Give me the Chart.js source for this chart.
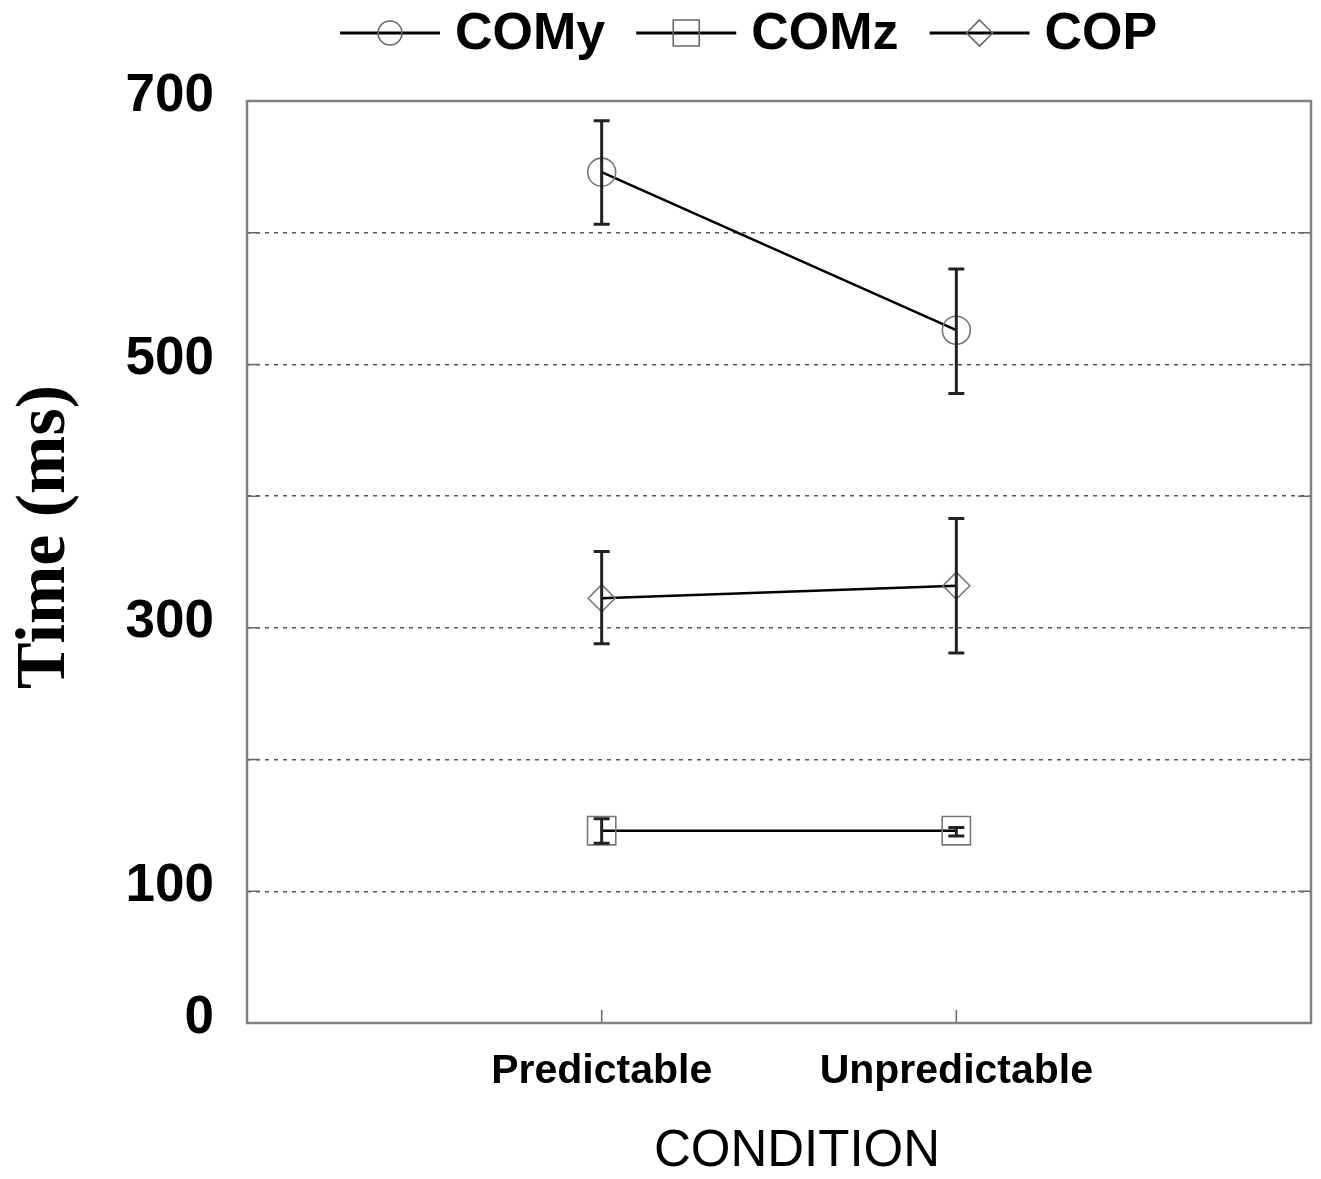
<!DOCTYPE html>
<html>
<head>
<meta charset="utf-8">
<script src="https://cdn.jsdelivr.net/npm/chart.js@4/dist/chart.umd.min.js"></script>
<style>
  html, body { margin: 0; padding: 0; background: #ffffff; }
  #wrap { width: 1321px; height: 1179px; position: relative; }
</style>
</head>
<body>
<div id="wrap"><canvas id="c" width="1321" height="1179"></canvas></div>
<script>
// ---- data ----
const categories = ['Predictable', 'Unpredictable'];
const seriesNames = ['COMy', 'COMz', 'COP'];
const comyMean  = [646, 526];
const comyUpper = [685, 572.5];
const comyLower = [606.5, 478];
const comzMean  = [146, 146];
const comzUpper = [155, 148.5];
const comzLower = [136.5, 142];
const copMean   = [322.5, 332];
const copUpper  = [358, 383];
const copLower  = [288, 281];
const yTickLabels = [0, 100, 300, 500, 700];
const yAxisTitle = 'Time (ms)';
const xAxisTitle = 'CONDITION';

function pts(arr) { return arr.map((v, i) => ({ x: i + 1, y: v })); }

const styles = ['circle', 'rect', 'rectRot'];
const radii = [14, 20, 13.5];
const means = [comyMean, comzMean, copMean];
const uppers = [comyUpper, comzUpper, copUpper];
const lowers = [comyLower, comzLower, copLower];

const datasets = seriesNames.map((name, k) => ({
  label: name,
  data: pts(means[k]),
  upper: uppers[k],
  lower: lowers[k],
  borderColor: '#000',
  borderWidth: 2.5,
  pointStyle: styles[k],
  pointRadius: radii[k],
  pointHoverRadius: radii[k],
  pointBorderColor: '#777',
  pointBorderWidth: 1.6,
  pointBackgroundColor: 'rgba(0,0,0,0)',
  tension: 0,
  fill: false
}));

function drawMarker(ctx, style, x, y, r) {
  ctx.beginPath();
  if (style === 'circle') {
    ctx.arc(x, y, r, 0, Math.PI * 2);
  } else if (style === 'rect') {
    const s = r;
    ctx.rect(x - s, y - s, 2 * s, 2 * s);
  } else {
    ctx.moveTo(x, y - r); ctx.lineTo(x + r, y); ctx.lineTo(x, y + r); ctx.lineTo(x - r, y); ctx.closePath();
  }
  ctx.stroke();
}

const decor = {
  id: 'decor',
  afterDatasetsDraw(chart) {
    const ctx = chart.ctx;
    const xs = chart.scales.x, ys = chart.scales.y;
    ctx.save();
    ctx.strokeStyle = '#222';
    ctx.lineWidth = 3;
    chart.data.datasets.forEach((ds) => {
      ds.data.forEach((p, i) => {
        const px = xs.getPixelForValue(p.x);
        const yt = ys.getPixelForValue(ds.upper[i]);
        const yb = ys.getPixelForValue(ds.lower[i]);
        ctx.beginPath();
        ctx.moveTo(px, yt); ctx.lineTo(px, yb);
        ctx.moveTo(px - 8, yt); ctx.lineTo(px + 8, yt);
        ctx.moveTo(px - 8, yb); ctx.lineTo(px + 8, yb);
        ctx.stroke();
      });
    });
    ctx.restore();
  },
  afterDraw(chart) {
    const ctx = chart.ctx;
    const a = chart.chartArea;
    const xs = chart.scales.x, ys = chart.scales.y;
    ctx.save();
    // inner tick marks
    ctx.strokeStyle = '#666';
    ctx.lineWidth = 1.5;
    ys.ticks.forEach(t => {
      const py = ys.getPixelForValue(t.value);
      ctx.beginPath();
      ctx.moveTo(a.left, py); ctx.lineTo(a.left + 13, py);
      ctx.moveTo(a.right, py); ctx.lineTo(a.right - 13, py);
      ctx.stroke();
    });
    [1, 2].forEach(v => {
      const px = xs.getPixelForValue(v);
      ctx.beginPath();
      ctx.moveTo(px, a.bottom); ctx.lineTo(px, a.bottom - 13);
      ctx.stroke();
    });
    // frame
    ctx.strokeStyle = '#808080';
    ctx.lineWidth = 2.5;
    ctx.strokeRect(a.left, a.top, a.right - a.left, a.bottom - a.top);

    // axis titles
    ctx.fillStyle = '#000';
    ctx.font = 'bold 70px "Liberation Serif", serif';
    ctx.textAlign = 'center';
    ctx.textBaseline = 'middle';
    ctx.save();
    ctx.translate(46, 537);
    ctx.rotate(-Math.PI / 2);
    ctx.fillText(yAxisTitle, 0, 0);
    ctx.restore();
    ctx.font = '51px "Liberation Sans", Arial, sans-serif';
    ctx.fillText(xAxisTitle, 797, 1152);

    // legend
    ctx.font = 'bold 52px "Liberation Sans", Arial, sans-serif';
    ctx.textAlign = 'left';
    let x = 340;
    const ly = 33;
    chart.data.datasets.forEach((ds, k) => {
      ctx.strokeStyle = '#000';
      ctx.lineWidth = 3;
      ctx.beginPath();
      ctx.moveTo(x, ly); ctx.lineTo(x + 100, ly);
      ctx.stroke();
      ctx.strokeStyle = '#666';
      ctx.lineWidth = 1.6;
      const r = k === 0 ? 12 : 13;
      drawMarker(ctx, styles[k], x + 50, ly, r);
      ctx.fillStyle = '#000';
      ctx.fillText(ds.label, x + 115, ly + 2);
      x += 115 + ctx.measureText(ds.label).width + 31;
    });
    ctx.restore();
  }
};

new Chart(document.getElementById('c'), {
  type: 'line',
  data: { datasets },
  options: {
    responsive: false,
    animation: false,
    devicePixelRatio: 1,
    layout: { autoPadding: false, padding: { top: 101, right: 10, left: 0, bottom: 0 } },
    plugins: { legend: { display: false }, tooltip: { enabled: false } },
    scales: {
      x: {
        type: 'linear',
        min: 0, max: 3,
        afterFit: (s) => { s.height = 156; s.paddingLeft = 0; s.paddingRight = 0; },
        afterBuildTicks: (s) => { s.ticks = [{ value: 1 }, { value: 2 }]; },
        grid: { display: false, drawTicks: false },
        border: { display: false },
        ticks: {
          padding: 24,
          color: '#000',
          font: { family: '"Liberation Sans", Arial, sans-serif', size: 41, weight: 'bold' },
          callback: (v) => categories[v - 1] || ''
        }
      },
      y: {
        min: 0, max: 700,
        afterFit: (s) => { s.width = 247; s.paddingTop = 0; s.paddingBottom = 0; },
        ticks: {
          stepSize: 100,
          padding: 33,
          labelOffset: -5,
          color: '#000',
          font: { family: '"Liberation Sans", Arial, sans-serif', size: 53, weight: 'bold' },
          callback: (v) => yTickLabels.includes(v) ? String(v) : ''
        },
        grid: { color: '#555', lineWidth: 1.5, drawTicks: false },
        border: { display: false, dash: [4, 5] }
      }
    }
  },
  plugins: [decor]
});
</script>
</body>
</html>
